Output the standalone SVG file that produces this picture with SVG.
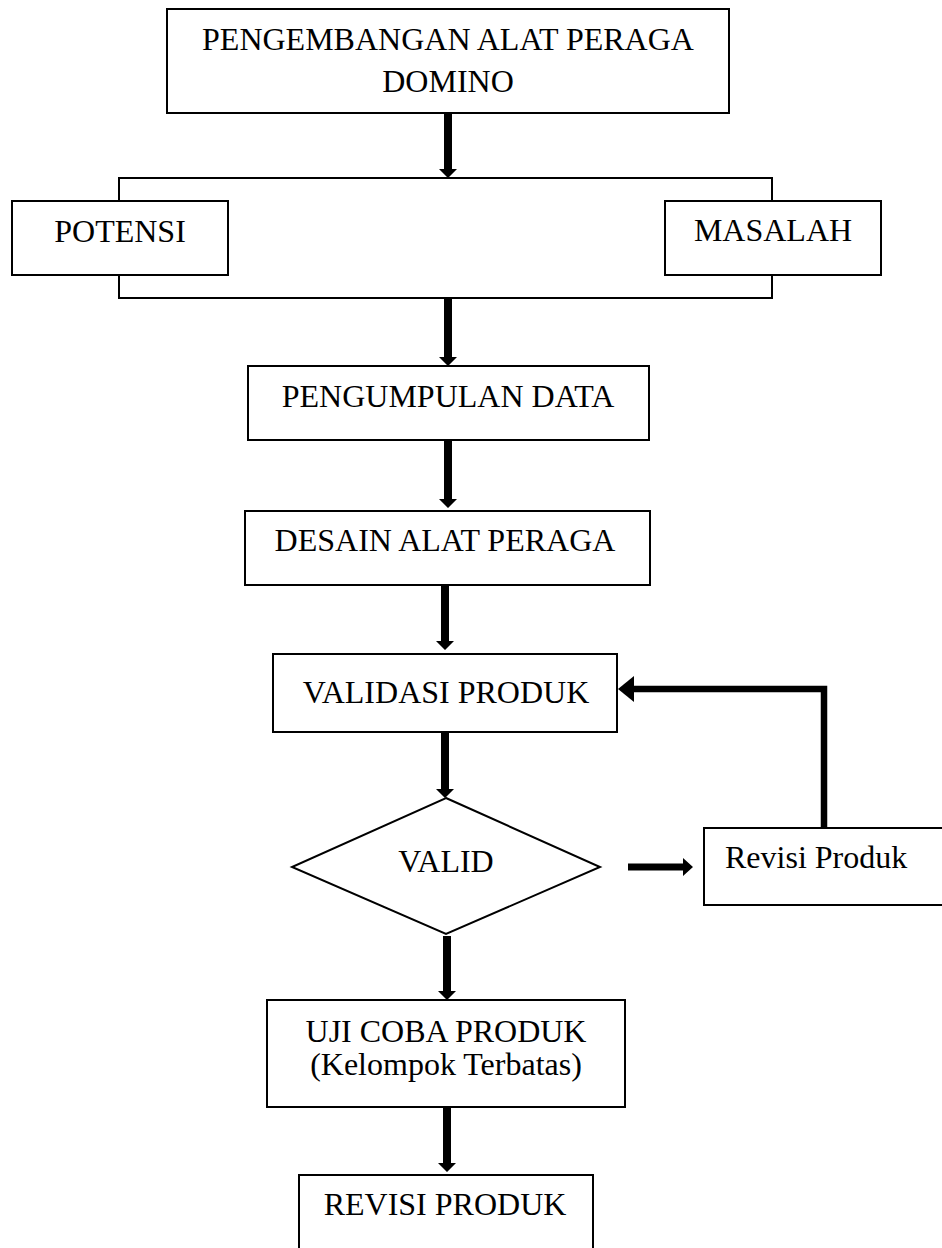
<svg xmlns="http://www.w3.org/2000/svg" width="942" height="1248" viewBox="0 0 942 1248">
<style>
.box{fill:#fff;stroke:#000;stroke-width:2}
.frame{fill:none;stroke:#000;stroke-width:2}
.t{font-family:"Liberation Serif","Times New Roman",serif;font-size:32px;fill:#000}
.c{text-anchor:middle}
.arr{fill:#000;stroke:none}
.fb{fill:none;stroke:#000;stroke-width:6.5}
</style>
<rect width="942" height="1248" fill="#fff"/>
<g id="frame">
<rect class="frame" x="119" y="178" width="653" height="120"/>
</g>
<g id="connectors">
<polygon class="arr" points="444,113 452,113 452,169 457,169 448,178 439,169 444,169"/>
<polygon class="arr" points="444,298 452,298 452,357 457,357 448,366 439,357 444,357"/>
<polygon class="arr" points="444,440 452,440 452,499 457,499 448,508 439,499 444,499"/>
<polygon class="arr" points="441,585 449,585 449,641 454,641 445,650 436,641 441,641"/>
<polygon class="arr" points="441,732 449,732 449,789 454,789 445,798 436,789 441,789"/>
<polygon class="arr" points="443,936 451,936 451,991 456,991 447,1000 438,991 443,991"/>
<polygon class="arr" points="443,1107 451,1107 451,1163 456,1163 447,1172 438,1163 443,1163"/>
<polygon class="arr" points="628,863.5 683,863.5 683,858 693,867 683,876 683,870.5 628,870.5"/>
<polyline class="fb" points="824,828 824,689 632,689"/>
<polygon class="arr" points="618,689 634,676 634,702"/>
</g>
<g id="n-top">
<rect class="box" x="167" y="9" width="562" height="104"/>
<text class="t c" x="448" y="50">PENGEMBANGAN ALAT PERAGA</text>
<text class="t c" x="448" y="92">DOMINO</text>
</g>
<g id="n-potensi">
<rect class="box" x="12" y="201" width="216" height="74"/>
<text class="t c" x="120" y="242">POTENSI</text>
</g>
<g id="n-masalah">
<rect class="box" x="665" y="201" width="216" height="74"/>
<text class="t c" x="773" y="241">MASALAH</text>
</g>
<g id="n-pengumpulan">
<rect class="box" x="248" y="366" width="401" height="74"/>
<text class="t c" x="448" y="407">PENGUMPULAN DATA</text>
</g>
<g id="n-desain">
<rect class="box" x="245" y="511" width="405" height="74"/>
<text class="t c" x="445" y="551">DESAIN ALAT PERAGA</text>
</g>
<g id="n-validasi">
<rect class="box" x="273" y="654" width="344" height="78"/>
<text class="t c" x="446" y="703">VALIDASI PRODUK</text>
</g>
<g id="n-valid">
<polygon class="box" points="446,798 600,867 446,934 292,867"/>
<text class="t c" x="446" y="872">VALID</text>
</g>
<g id="n-revisi-produk">
<rect class="box" x="704" y="828" width="250" height="77"/>
<text class="t" x="725" y="868">Revisi Produk</text>
</g>
<g id="n-uji">
<rect class="box" x="267" y="1000" width="358" height="107"/>
<text class="t c" x="446" y="1042">UJI COBA PRODUK</text>
<text class="t c" x="446" y="1075">(Kelompok Terbatas)</text>
</g>
<g id="n-revisi">
<rect class="box" x="299" y="1175" width="294" height="100"/>
<text class="t c" x="445" y="1215">REVISI PRODUK</text>
</g>
</svg>
